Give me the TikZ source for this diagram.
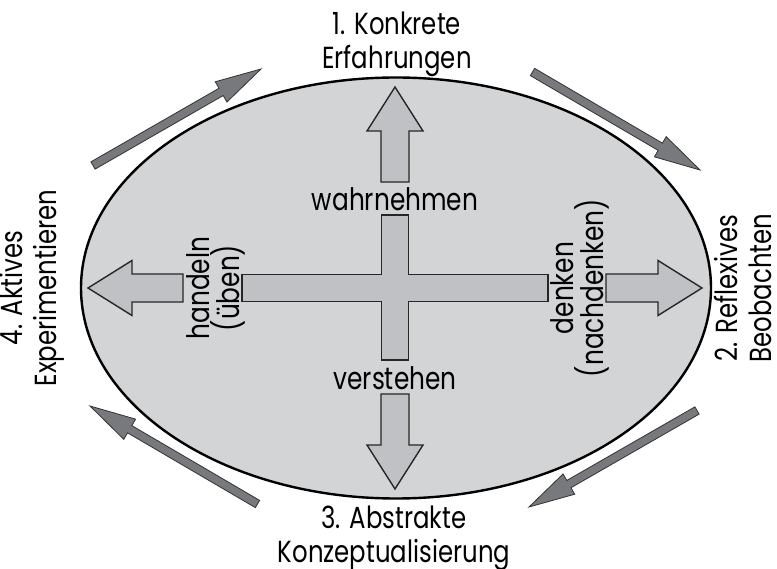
\documentclass[tikz,border=0pt]{standalone}
\usepackage{fontspec}
\setmainfont{Poppins}[FakeStretch=0.8]
\usetikzlibrary{calc}

\definecolor{ovalgray}{RGB}{211,212,214}
\definecolor{crossgray}{RGB}{192,193,196}
\definecolor{cyclegray}{RGB}{120,121,124}

\tikzset{
  oval/.style={draw=black, line width=2.4, fill=ovalgray},
  crossbox/.style={draw=black!85, line width=1.4, fill=crossgray},
  cyclearrow/.style={draw=black!80, line width=0.8, fill=cyclegray},
  stage/.style={align=center, inner sep=0pt, font=\fontsize{30.5}{34}\selectfont},
  verb/.style={align=center, inner sep=0pt, font=\fontsize{31}{30}\selectfont},
}

% block arrow: style, tail, tip, shaft half width, head half width, head length
\newcommand{\blockarrow}[6]{%
  \draw[#1] let \p1=(#2), \p2=(#3),
      \n1={atan2(\y2-\y1,\x2-\x1)}, \n2={veclen(\x2-\x1,\y2-\y1)} in
    [shift={(\p1)}, rotate=\n1]
    (0,#4) -- ({\n2-#6},#4) -- ({\n2-#6},#5) -- (\n2,0)
    -- ({\n2-#6},-#5) -- ({\n2-#6},-#4) -- (0,-#4) -- cycle;}

\begin{document}
\begin{tikzpicture}[x=1pt, y=-1pt]
\useasboundingbox (0,0) rectangle (777,569);

%% the oval
\draw[oval] (396,288) ellipse [x radius=315, y radius=210.5];

%% the cross in the middle
\coordinate (ctr) at (395,288);
\draw[crossbox, shift={(ctr)}]
  (-13.5,-73) -- (13.5,-73) -- (13.5,-13.5) -- (153,-13.5) -- (153,13.5)
  -- (13.5,13.5) -- (13.5,72) -- (-13.5,72) -- (-13.5,13.5) -- (-153,13.5)
  -- (-153,-13.5) -- (-13.5,-13.5) -- cycle;

%% four arrows out of the cross
\blockarrow{crossbox}{$(ctr)+(0,-106)$}{$(ctr)+(0,-201)$}{14}{28}{44}
\blockarrow{crossbox}{$(ctr)+(0,106)$}{$(ctr)+(0,201)$}{14}{28}{44}
\blockarrow{crossbox}{$(ctr)+(-212,0)$}{$(ctr)+(-307,0)$}{14}{27.5}{44}
\blockarrow{crossbox}{$(ctr)+(211,0)$}{$(ctr)+(307,0)$}{14}{27.5}{44}

%% the cycle round the oval
\coordinate (cycA) at (93,165.5);
\coordinate (cycB) at (261,69);
\coordinate (cycC) at (532.5,72);
\coordinate (cycD) at (700,170);
\coordinate (cycE) at (697,410.5);
\coordinate (cycF) at (529,507);
\coordinate (cycG) at (257.5,504);
\coordinate (cycH) at (90,406);
\blockarrow{cyclearrow}{cycA}{cycB}{4.2}{11.7}{46}
\blockarrow{cyclearrow}{cycC}{cycD}{4.2}{11.7}{46}
\blockarrow{cyclearrow}{cycE}{cycF}{4.2}{11.7}{46}
\blockarrow{cyclearrow}{cycG}{cycH}{4.2}{11.7}{46}

%% stages
\node[stage] (konkret) at (397,44) {1. Konkrete\\Erfahrungen};
\node[stage, rotate=90] (reflex) at (743,288) {2. Reflexives\\Beobachten};
\node[stage] (abstrakt) at (394,538) {3. Abstrakte\\Konzeptualisierung};
\node[stage, rotate=90] (aktiv) at (32,288) {4. Aktives\\Experimentieren};

%% verbs on the cross
\node[verb] (wahr) at (395,199) {wahrnehmen};
\node[verb] (versteh) at (395,378) {verstehen};
\node[verb, rotate=90] (handeln) at (216,288) {handeln\\(üben)};
\node[verb, rotate=90] (denken) at (580,288) {denken\\(nachdenken)};
\end{tikzpicture}
\end{document}
